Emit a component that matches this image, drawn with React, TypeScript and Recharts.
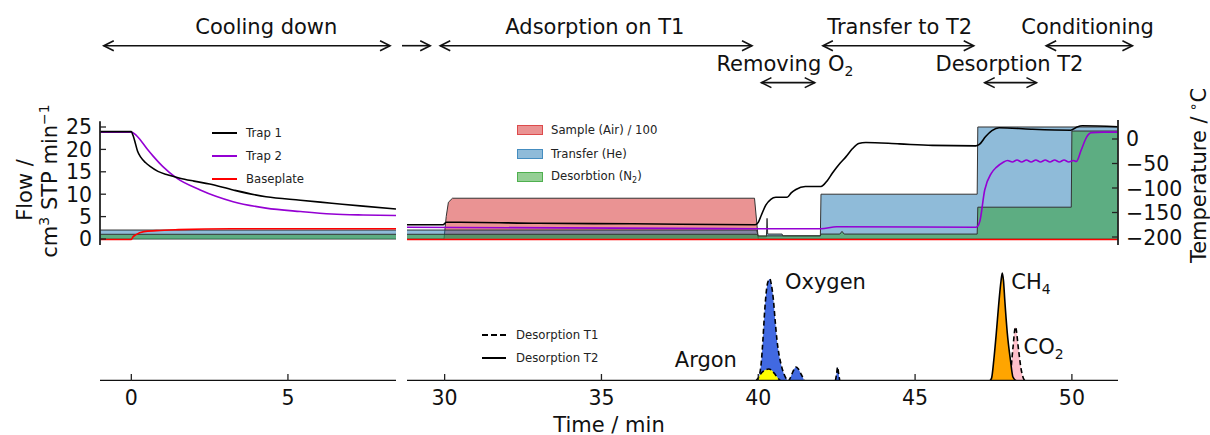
import {
  Area,
  ComposedChart,
  Legend,
  Line,
  ReferenceDot,
  ReferenceLine,
  XAxis,
  YAxis,
} from 'recharts'

const FONT = '"DejaVu Sans", sans-serif'
const INK = '#111'

type Pt = [number, number]
type Row = { t: number; v: number }
const rows = (pts: Pt[]): Row[] => pts.map(([t, v]) => ({ t, v }))

// axes
const coolDomain: [number, number] = [-1, 8.45]
const runDomain: [number, number] = [28.8, 51.47]
const coolTicks = [0, 5]
const runTicks = [30, 35, 40, 45, 50]
const flowDomain: [number, number] = [-1.34, 30.58]
const flowTicks = [0, 5, 10, 15, 20, 25]
const tempDomain: [number, number] = [-216.3, 75.5]
const tempTicks = [0, -50, -100, -150, -200]
const signalDomain: [number, number] = [0, 120]
const flowSpineTop = 26.3
const tempSpineTop = 38.8

// cooling down, temperatures in °C
const trap1Cool: Pt[] = [
  [-1, 15], [0, 15], [0.05, 8], [0.1, -2], [0.2, -25], [0.3, -37], [0.45, -48], [0.6, -56],
  [0.85, -66], [1.15, -73], [1.55, -80], [2.0, -86], [2.5, -92], [3.25, -104], [4.3, -118],
  [5.4, -125], [6.4, -131], [7.4, -137], [8.45, -143],
]
const trap2Cool: Pt[] = [
  [-1, 14], [0, 14], [0.15, 8], [0.29, -2], [0.5, -20], [0.71, -36], [1.0, -56], [1.45, -80],
  [2.2, -104], [2.7, -117], [3.25, -128], [4.3, -141], [5.4, -148], [6.4, -153], [7.4, -155], [8.45, -156],
]
const plateCool: Pt[] = [
  [-1, -205], [0, -205], [0.05, -200], [0.15, -195], [0.4, -189], [0.8, -187], [1.5, -185], [3.2, -183], [8.45, -183],
]
// cooling down, flows
const sampleCool: Pt[] = [[-1, 0], [8.45, 0]]
const transferCool: Pt[] = [[-1, 2.0], [8.45, 2.0]]
const desorbCool: Pt[] = [[-1, 1.05], [8.45, 1.05]]

// measurement run, temperatures in °C
const trap1Run: Pt[] = [
  [28.8, -175], [29.95, -175], [30.05, -170], [30.5, -170], [33, -172], [36, -173], [39.9, -175],
  [40.0, -170], [40.1, -155], [40.24, -135], [40.4, -123], [40.56, -119], [40.92, -119], [41.05, -110],
  [41.2, -103], [41.5, -97], [42.0, -97], [42.2, -85], [42.36, -70], [42.6, -50], [42.8, -36],
  [43.0, -20], [43.2, -9], [43.43, -7], [44.5, -10], [45.55, -13], [46.93, -14], [47.05, -11],
  [47.25, 5], [47.45, 17], [47.68, 23], [48.7, 20], [49.96, 18], [50.15, 24], [50.33, 27], [51.47, 25],
]
const trap2Run: Pt[] = [
  [28.8, -180], [40.0, -183], [42.0, -183], [42.5, -179], [46.95, -180], [47.06, -169], [47.22, -104],
  [47.43, -70], [47.59, -58], [47.8, -48], [47.95, -44], [48.1, -47], [48.25, -43], [48.4, -47],
  [48.55, -43], [48.7, -47], [48.85, -43], [49.0, -47], [49.15, -43], [49.3, -47], [49.45, -43],
  [49.6, -47], [49.75, -43], [49.9, -47], [50.05, -44], [50.14, -46], [50.3, -22], [50.46, 3],
  [50.62, 13], [51.0, 14], [51.47, 14],
]
const plateRun: Pt[] = [[28.8, -205], [51.47, -205]]
// measurement run, flows (sample divided by 100)
const sampleRun: Pt[] = [
  [28.8, 0], [29.98, 0], [30.05, 5], [30.12, 8.2], [30.25, 9.1], [39.88, 9.1], [40.0, 0], [51.47, 0],
]
const transferRun: Pt[] = [
  [28.8, 2.0], [39.95, 2.0], [40.0, 0.5], [40.26, 0.5], [40.28, 4.6], [40.3, 1.1], [40.76, 1.1],
  [40.78, 0.7], [41.98, 0.7], [42.0, 10], [46.98, 10], [47.0, 25], [51.47, 25],
]
const desorbRun: Pt[] = [
  [28.8, 1.05], [39.95, 1.05], [40.0, 0.7], [41.98, 0.7], [42.0, 1.1], [42.6, 1.1], [42.67, 1.7],
  [42.74, 1.1], [46.98, 1.1], [47.0, 7.1], [49.98, 7.1], [50.0, 24.1], [51.47, 24.1],
]

// detector signal (arbitrary units)
const baselineCool: Pt[] = [[-1, 0], [8.45, 0]]
const baselineRun: Pt[] = [[28.8, 0], [51.47, 0]]
const oxygenPeak: Pt[] = [
  [39.97, 0], [40.04, 6], [40.1, 20], [40.15, 42], [40.2, 68], [40.27, 93], [40.33, 101], [40.37, 102],
  [40.42, 96], [40.48, 82], [40.54, 60], [40.6, 40], [40.67, 25], [40.74, 15], [40.82, 7], [40.9, 2],
  [40.96, 0], [41.02, 3], [41.1, 9], [41.2, 14], [41.28, 12], [41.38, 6], [41.5, 0], [42.45, 0],
  [42.5, 8], [42.53, 14], [42.56, 8], [42.6, 0],
]
const argonPeak: Pt[] = [
  [39.92, 0], [40.0, 3], [40.1, 8], [40.22, 11], [40.33, 12], [40.45, 10], [40.55, 6], [40.65, 2], [40.72, 0],
]
const methanePeak: Pt[] = [
  [47.38, 0], [47.44, 3], [47.51, 21], [47.59, 48], [47.67, 78], [47.74, 100], [47.78, 108], [47.82, 100],
  [47.86, 81], [47.94, 48], [48.04, 21], [48.12, 4], [48.23, 0],
]
const co2Peak: Pt[] = [
  [47.98, 0], [48.05, 10], [48.12, 33], [48.2, 54], [48.3, 31], [48.38, 12], [48.45, 3], [48.52, 0],
]

type Phase = { label: string; sub?: string; from: number; to: number; textAt: number; row: 1 | 2; heads: 'both' | 'right' }
const rowLevel = { 1: 43.15, 2: 34.9 }
const coolPhases: Phase[] = [
  { label: 'Cooling down', from: -0.88, to: 8.26, textAt: 4.31, row: 1, heads: 'both' },
]
const runPhases: Phase[] = [
  { label: '', from: 28.64, to: 29.54, textAt: 29.1, row: 1, heads: 'right' },
  { label: 'Adsorption on T1', from: 29.86, to: 39.8, textAt: 34.79, row: 1, heads: 'both' },
  { label: 'Transfer to T2', from: 42.06, to: 46.87, textAt: 44.51, row: 1, heads: 'both' },
  { label: 'Conditioning', from: 49.18, to: 51.93, textAt: 50.5, row: 1, heads: 'both' },
  { label: 'Removing O', sub: '2', from: 40.1, to: 41.8, textAt: 40.85, row: 2, heads: 'both' },
  { label: 'Desorption T2', from: 47.22, to: 48.87, textAt: 48.01, row: 2, heads: 'both' },
]

const speciesLabels = [
  { text: 'Oxygen', sub: '', t: 40.85, v: 92, anchor: 'start' },
  { text: 'Argon', sub: '', t: 39.32, v: 14.4, anchor: 'end' },
  { text: 'CH', sub: '4', t: 48.07, v: 92, anchor: 'start' },
  { text: 'CO', sub: '2', t: 48.46, v: 27, anchor: 'start' },
]

const trapLegend = [
  { name: 'Trap 1', color: '#000000' },
  { name: 'Trap 2', color: '#9400d3' },
  { name: 'Baseplate', color: '#ff0000' },
]
const gasLegend = [
  { name: 'Sample (Air) / 100', sub: '', color: '#d62728' },
  { name: 'Transfer (He)', sub: '', color: '#1f77b4' },
  { name: 'Desorbtion (N', sub: '2', color: '#2ca02c' },
]
const desorbLegend = [
  { name: 'Desorption T1', dash: true },
  { name: 'Desorption T2', dash: false },
]

const legendText = { fontFamily: FONT, fontSize: 11.7, color: '#222' }

function phaseArrow(ph: Phase) {
  return (p: any) => {
    const x1 = Number(p.x1)
    const x2 = Number(p.x2)
    const y = Number(p.y1)
    const tx = x1 + ((ph.textAt - ph.from) / (ph.to - ph.from)) * (x2 - x1)
    const st = { stroke: INK, strokeWidth: 1.6, fill: 'none' }
    return (
      <g>
        <line x1={x1} x2={x2} y1={y} y2={y} {...st} />
        {ph.heads === 'both' && <polyline points={`${x1 + 10},${y - 5} ${x1},${y} ${x1 + 10},${y + 5}`} {...st} />}
        <polyline points={`${x2 - 10},${y - 5} ${x2},${y} ${x2 - 10},${y + 5}`} {...st} />
        {ph.label && (
          <text x={tx} y={y - 11.5} textAnchor="middle" fontSize={21} fontFamily={FONT} fill={INK}>
            {ph.label}
            {ph.sub && <tspan dy={5} fontSize={14}>{ph.sub}</tspan>}
          </text>
        )}
      </g>
    )
  }
}

const FlowTick = (p: any) => (
  <g>
    <line x1={p.x} x2={p.x + 6} y1={p.y} y2={p.y} stroke="#222" strokeWidth={1.3} />
    <text x={p.x - 8} y={p.y + 7.5} textAnchor="end" fontSize={20.5} fontFamily={FONT} fill={INK}>
      {p.payload.value}
    </text>
  </g>
)

const TempTick = (p: any) => (
  <g>
    <line x1={p.x - 6} x2={p.x} y1={p.y} y2={p.y} stroke="#222" strokeWidth={1.3} />
    <text x={p.x + 8} y={p.y + 7.5} textAnchor="start" fontSize={20.5} fontFamily={FONT} fill={INK}>
      {String(p.payload.value).replace('-', '\u2212')}
    </text>
  </g>
)

const TimeTick = (p: any) => (
  <g>
    <line x1={p.x} x2={p.x} y1={p.y} y2={p.y - 7} stroke="#222" strokeWidth={1.3} />
    <text x={p.x} y={p.y + 24} textAnchor="middle" fontSize={20.5} fontFamily={FONT} fill={INK}>
      {p.payload.value}
    </text>
  </g>
)

const FlowLabel = (p: any) => {
  const vb = p.viewBox
  const a = { x: vb.x + 32, y: vb.y + 88 }
  const b = { x: vb.x + 57, y: vb.y + 79 }
  return (
    <g fontFamily={FONT} fill={INK} fontSize={21}>
      <text x={a.x} y={a.y} textAnchor="middle" transform={`rotate(-90, ${a.x}, ${a.y})`}>Flow /</text>
      <text x={b.x} y={b.y} textAnchor="middle" transform={`rotate(-90, ${b.x}, ${b.y})`}>
        cm<tspan dy={-8} fontSize={14}>3</tspan>
        <tspan dy={8}> STP min</tspan>
        <tspan dy={-8} fontSize={14}>{'\u22121'}</tspan>
      </text>
    </g>
  )
}

const TempLabel = (p: any) => {
  const vb = p.viewBox
  const x = vb.x + 88
  const y = vb.y + 73.5
  return (
    <text x={x} y={y} textAnchor="middle" fontSize={21} fontFamily={FONT} fill={INK} transform={`rotate(-90, ${x}, ${y})`}>
      Temperature /
      <tspan dx={5} dy={-8} fontSize={14}>{'\u2218'}</tspan>
      <tspan dy={8}>C</tspan>
    </text>
  )
}

const TimeLabel = (p: any) => {
  const vb = p.viewBox
  return (
    <text x={vb.x + 202} y={vb.y + 50.5} textAnchor="middle" fontSize={21} fontFamily={FONT} fill={INK}>
      Time / min
    </text>
  )
}

const TrapLegendContent = () => (
  <div style={legendText}>
    {trapLegend.map((it) => (
      <div key={it.name} style={{ display: 'flex', alignItems: 'center', height: 23 }}>
        <div style={{ width: 25, borderTop: `2px solid ${it.color}`, marginRight: 9 }} />
        <span>{it.name}</span>
      </div>
    ))}
  </div>
)

const GasLegendContent = () => (
  <div style={legendText}>
    {gasLegend.map((it) => (
      <div key={it.name} style={{ display: 'flex', alignItems: 'center', height: 23.8 }}>
        <div
          style={{
            width: 24,
            height: 8,
            background: it.color + '80',
            border: `1px solid ${it.color}aa`,
            marginRight: 8,
          }}
        />
        <span>
          {it.name}
          {it.sub && (
            <>
              <sub style={{ fontSize: 8 }}>{it.sub}</sub>)
            </>
          )}
        </span>
      </div>
    ))}
  </div>
)

const DesorbLegendContent = () => (
  <div style={legendText}>
    {desorbLegend.map((it) => (
      <div key={it.name} style={{ display: 'flex', alignItems: 'center', height: 23 }}>
        <div style={{ width: 24, borderTop: `2px ${it.dash ? 'dashed' : 'solid'} #000`, marginRight: 10 }} />
        <span>{it.name}</span>
      </div>
    ))}
  </div>
)

function TopPanel(props: {
  width: number
  left: number
  domain: [number, number]
  ticks: number[]
  margin: { top: number; right: number; bottom: number; left: number }
  showFlow: boolean
  sample: Pt[]
  transfer: Pt[]
  desorb: Pt[]
  trap1: Pt[]
  trap2: Pt[]
  plate: Pt[]
  phases: Phase[]
}) {
  const { domain, ticks, showFlow } = props
  return (
    <div style={{ position: 'absolute', left: props.left, top: 0 }}>
      <ComposedChart width={props.width} height={272} margin={props.margin}>
        <XAxis
          xAxisId="top"
          orientation="top"
          type="number"
          dataKey="t"
          domain={domain}
          ticks={ticks}
          interval={0}
          allowDataOverflow
          mirror
          height={10}
          axisLine={false}
          tick={false}
          tickSize={7}
          tickLine={{ stroke: '#222', strokeWidth: 1.3 }}
        />
        <XAxis
          xAxisId="b"
          orientation="bottom"
          type="number"
          dataKey="t"
          domain={domain}
          ticks={ticks}
          interval={0}
          allowDataOverflow
          mirror
          height={10}
          axisLine={false}
          tick={false}
          tickSize={7}
          tickLine={{ stroke: '#222', strokeWidth: 1.3 }}
        />
        <YAxis
          yAxisId="flow"
          orientation="left"
          type="number"
          domain={flowDomain}
          ticks={flowTicks}
          interval={0}
          allowDataOverflow
          hide={!showFlow}
          width={100}
          axisLine={false}
          tickLine={false}
          tickSize={0}
          tickMargin={0}
          tick={<FlowTick />}
          label={{ content: FlowLabel }}
        />
        <YAxis
          yAxisId="temp"
          orientation="right"
          type="number"
          domain={tempDomain}
          ticks={tempTicks}
          interval={0}
          allowDataOverflow
          hide={showFlow}
          width={92}
          axisLine={false}
          tickLine={false}
          tickSize={0}
          tickMargin={0}
          tick={<TempTick />}
          label={{ content: TempLabel }}
        />
        <Area
          xAxisId="b"
          yAxisId="flow"
          data={rows(props.sample)}
          dataKey="v"
          type="linear"
          fill="#d62728"
          fillOpacity={0.5}
          stroke="#333"
          strokeWidth={1}
          isAnimationActive={false}
        />
        <Area
          xAxisId="b"
          yAxisId="flow"
          data={rows(props.transfer)}
          dataKey="v"
          type="linear"
          fill="#1f77b4"
          fillOpacity={0.5}
          stroke="#333"
          strokeWidth={1}
          isAnimationActive={false}
        />
        <Area
          xAxisId="b"
          yAxisId="flow"
          data={rows(props.desorb)}
          dataKey="v"
          type="linear"
          fill="#2ca02c"
          fillOpacity={0.5}
          stroke="#333"
          strokeWidth={1}
          isAnimationActive={false}
        />
        <Line
          xAxisId="b"
          yAxisId="temp"
          data={rows(props.plate)}
          dataKey="v"
          type="monotone"
          stroke="#ff0000"
          strokeWidth={1.6}
          dot={false}
          isAnimationActive={false}
        />
        <Line
          xAxisId="b"
          yAxisId="temp"
          data={rows(props.trap2)}
          dataKey="v"
          type="monotone"
          stroke="#9400d3"
          strokeWidth={1.6}
          dot={false}
          isAnimationActive={false}
        />
        <Line
          xAxisId="b"
          yAxisId="temp"
          data={rows(props.trap1)}
          dataKey="v"
          type="monotone"
          stroke="#000"
          strokeWidth={1.6}
          dot={false}
          isAnimationActive={false}
        />
        {showFlow ? (
          <ReferenceLine
            xAxisId="b"
            yAxisId="flow"
            ifOverflow="visible"
            segment={[{ x: domain[0], y: flowDomain[0] }, { x: domain[0], y: flowSpineTop }]}
            stroke="#222"
            strokeWidth={1.8}
          />
        ) : (
          <ReferenceLine
            xAxisId="b"
            yAxisId="temp"
            ifOverflow="visible"
            segment={[{ x: domain[1], y: tempDomain[0] }, { x: domain[1], y: tempSpineTop }]}
            stroke="#222"
            strokeWidth={1.8}
          />
        )}
        {props.phases.map((ph, i) => (
          <ReferenceLine
            key={i}
            xAxisId="b"
            yAxisId="flow"
            ifOverflow="visible"
            segment={[{ x: ph.from, y: rowLevel[ph.row] }, { x: ph.to, y: rowLevel[ph.row] }]}
            shape={phaseArrow(ph)}
          />
        ))}
        <Legend
          layout="vertical"
          align="center"
          verticalAlign="middle"
          content={showFlow ? <TrapLegendContent /> : <GasLegendContent />}
          wrapperStyle={showFlow ? { top: 121, left: 212, width: 'auto' } : { top: 118, left: 117, width: 'auto' }}
        />
      </ComposedChart>
    </div>
  )
}

function BottomPanel(props: {
  width: number
  left: number
  domain: [number, number]
  ticks: number[]
  margin: { top: number; right: number; bottom: number; left: number }
  baseline: Pt[]
  run: boolean
}) {
  const { domain, run } = props
  const dashed = { stroke: '#000', strokeWidth: 1.6, strokeDasharray: '5 3' }
  return (
    <div style={{ position: 'absolute', left: props.left, top: 250 }}>
      <ComposedChart width={props.width} height={185} margin={props.margin}>
        <XAxis
          xAxisId="b"
          orientation="bottom"
          type="number"
          dataKey="t"
          domain={domain}
          ticks={props.ticks}
          interval={0}
          allowDataOverflow
          height={54}
          axisLine={false}
          tickLine={false}
          tickSize={0}
          tickMargin={0}
          tick={<TimeTick />}
          label={run ? { content: TimeLabel } : undefined}
        />
        <YAxis yAxisId="sig" type="number" domain={signalDomain} allowDataOverflow hide />
        {run && (
          <Area xAxisId="b" yAxisId="sig" data={rows(oxygenPeak)} dataKey="v" type="monotone"
            fill="#4169e1" fillOpacity={1} {...dashed} isAnimationActive={false} />
        )}
        {run && (
          <Area xAxisId="b" yAxisId="sig" data={rows(argonPeak)} dataKey="v" type="monotone"
            fill="#ffff00" fillOpacity={1} {...dashed} isAnimationActive={false} />
        )}
        {run && (
          <Area xAxisId="b" yAxisId="sig" data={rows(co2Peak)} dataKey="v" type="monotone"
            fill="#ffc0cb" fillOpacity={1} {...dashed} isAnimationActive={false} />
        )}
        {run && (
          <Area xAxisId="b" yAxisId="sig" data={rows(methanePeak)} dataKey="v" type="monotone"
            fill="#ffa500" fillOpacity={1} stroke="#000" strokeWidth={1.6} isAnimationActive={false} />
        )}
        <Line xAxisId="b" yAxisId="sig" data={rows(props.baseline)} dataKey="v" type="linear"
          stroke="#111" strokeWidth={2.6} dot={false} isAnimationActive={false} />
        {run &&
          speciesLabels.map((s) => (
            <ReferenceDot
              key={s.text}
              xAxisId="b"
              yAxisId="sig"
              x={s.t}
              y={s.v}
              r={1}
              ifOverflow="visible"
              shape={(p: any) => (
                <text x={p.cx} y={p.cy} textAnchor={s.anchor as any} fontSize={21} fontFamily={FONT} fill={INK}>
                  {s.text}
                  {s.sub && <tspan dy={5} fontSize={14}>{s.sub}</tspan>}
                </text>
              )}
            />
          ))}
        {run && (
          <Legend
            layout="vertical"
            align="center"
            verticalAlign="middle"
            content={<DesorbLegendContent />}
            wrapperStyle={{ top: 73.5, left: 82, width: 'auto' }}
          />
        )}
      </ComposedChart>
    </div>
  )
}

export default function App() {
  return (
    <div
      style={{
        position: 'absolute',
        left: 0,
        top: 0,
        width: 1210,
        height: 435,
        background: '#fff',
        overflow: 'hidden',
      }}
    >
      <BottomPanel
        width={400}
        left={0}
        domain={coolDomain}
        ticks={coolTicks}
        margin={{ top: 11, right: 4, bottom: 0, left: 100 }}
        baseline={baselineCool}
        run={false}
      />
      <BottomPanel
        width={810}
        left={400}
        domain={runDomain}
        ticks={runTicks}
        margin={{ top: 11, right: 92, bottom: 0, left: 7 }}
        baseline={baselineRun}
        run
      />
      <TopPanel
        width={400}
        left={0}
        domain={coolDomain}
        ticks={coolTicks}
        margin={{ top: 102, right: 4, bottom: 27, left: 0 }}
        showFlow
        sample={sampleCool}
        transfer={transferCool}
        desorb={desorbCool}
        trap1={trap1Cool}
        trap2={trap2Cool}
        plate={plateCool}
        phases={coolPhases}
      />
      <TopPanel
        width={810}
        left={400}
        domain={runDomain}
        ticks={runTicks}
        margin={{ top: 102, right: 0, bottom: 27, left: 7 }}
        showFlow={false}
        sample={sampleRun}
        transfer={transferRun}
        desorb={desorbRun}
        trap1={trap1Run}
        trap2={trap2Run}
        plate={plateRun}
        phases={runPhases}
      />
    </div>
  )
}
